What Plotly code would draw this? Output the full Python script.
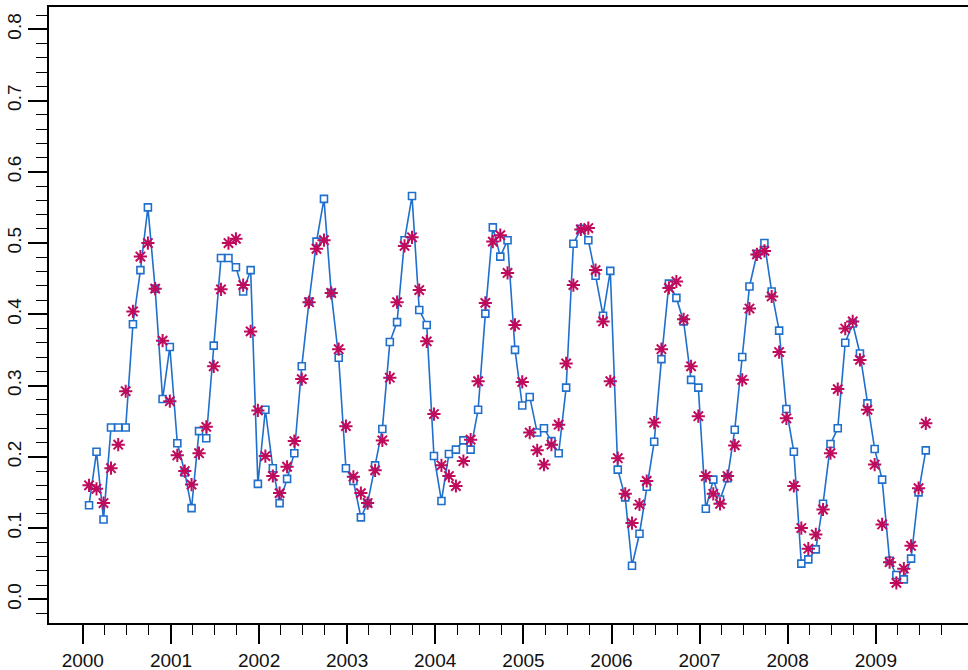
import pandas as pd
import plotly.graph_objects as go

# Monthly observations, Jan 2000 - Jul 2009
months = pd.date_range("2000-01-01", periods=115, freq="MS") + pd.Timedelta(days=26)

observed = [
    0.132, 0.207, 0.112, 0.241, 0.241, 0.241, 0.386, 0.462, 0.550, 0.436, 0.281, 0.354,
    0.219, 0.178, 0.128, 0.236, 0.226, 0.356, 0.479, 0.479, 0.466, 0.432, 0.462, 0.162,
    0.266, 0.184, 0.135, 0.169, 0.205, 0.327, 0.418, 0.502, 0.562, 0.430, 0.339, 0.184,
    0.166, 0.115, 0.135, 0.188, 0.239, 0.361, 0.389, 0.504, 0.566, 0.406, 0.385, 0.201,
    0.138, 0.204, 0.210, 0.223, 0.210, 0.266, 0.401, 0.522, 0.481, 0.504, 0.350, 0.272,
    0.284, 0.234, 0.240, 0.222, 0.205, 0.297, 0.499, 0.520, 0.504, 0.454, 0.398, 0.461,
    0.182, 0.143, 0.047, 0.092, 0.158, 0.221, 0.337, 0.443, 0.423, 0.390, 0.308, 0.297,
    0.127, 0.168, 0.140, 0.170, 0.238, 0.340, 0.439, 0.485, 0.500, 0.432, 0.377, 0.267,
    0.207, 0.050, 0.056, 0.070, 0.134, 0.218, 0.240, 0.360, 0.387, 0.345, 0.275, 0.211,
    0.168, 0.054, 0.034, 0.028, 0.057, 0.150, 0.209,
]

fitted = [
    0.160, 0.155, 0.135, 0.184, 0.217, 0.292, 0.404, 0.481, 0.500, 0.436, 0.363, 0.278,
    0.202, 0.180, 0.161, 0.205, 0.242, 0.327, 0.435, 0.500, 0.506, 0.441, 0.376, 0.265,
    0.201, 0.173, 0.149, 0.186, 0.222, 0.309, 0.417, 0.492, 0.504, 0.430, 0.351, 0.243,
    0.172, 0.149, 0.135, 0.181, 0.223, 0.311, 0.417, 0.496, 0.508, 0.434, 0.362, 0.260,
    0.188, 0.173, 0.159, 0.194, 0.224, 0.306, 0.416, 0.502, 0.511, 0.458, 0.385, 0.305,
    0.234, 0.209, 0.189, 0.217, 0.245, 0.331, 0.441, 0.519, 0.521, 0.462, 0.390, 0.306,
    0.198, 0.148, 0.107, 0.133, 0.166, 0.248, 0.351, 0.437, 0.446, 0.393, 0.327, 0.257,
    0.173, 0.148, 0.134, 0.173, 0.216, 0.308, 0.408, 0.484, 0.489, 0.425, 0.347, 0.254,
    0.159, 0.100, 0.071, 0.091, 0.126, 0.205, 0.295, 0.380, 0.390, 0.336, 0.266, 0.189,
    0.105, 0.052, 0.023, 0.043, 0.075, 0.156, 0.247,
]

year_ticks = ["2000", "2001", "2002", "2003", "2004", "2005", "2006", "2007", "2008", "2009"]
y_ticks = [0.0, 0.1, 0.2, 0.3, 0.4, 0.5, 0.6, 0.7, 0.8]

# quarter ticks between the year ticks
quarter_ticks = [f"{y}-{m:02d}-01" for y in year_ticks for m in (4, 7, 10)]

blue = "#1f6fcc"
magenta = "#c00a5c"

fig = go.Figure()
fig.add_trace(go.Scatter(
    x=months, y=observed, mode="lines+markers",
    line=dict(color=blue, width=1.6),
    marker=dict(symbol="square", size=7, color="white", line=dict(color=blue, width=1.6)),
    showlegend=False,
))
fig.add_trace(go.Scatter(
    x=months, y=fitted, mode="markers",
    marker=dict(symbol="asterisk-open", size=11, color=magenta, line=dict(color=magenta, width=2)),
    showlegend=False,
))

font = dict(family="Liberation Sans, Arial, sans-serif", size=19, color="#111111")

fig.update_layout(
    width=968, height=670,
    margin=dict(l=49, r=0, t=7, b=47),
    paper_bgcolor="white", plot_bgcolor="white",
    font=font,
)
fig.update_xaxes(
    type="date",
    range=["1999-08-14", "2010-01-18"],
    tickmode="array",
    tickvals=[f"{y}-01-01" for y in year_ticks],
    ticktext=year_ticks,
    ticks="outside", ticklen=19, tickwidth=1.6, tickcolor="black",
    minor=dict(ticks="outside", ticklen=10, tickwidth=1.4, tickcolor="black",
               tickmode="array", tickvals=quarter_ticks),
    showline=True, linecolor="black", linewidth=1.6, mirror=True,
    showgrid=False, zeroline=False,
    tickfont=font,
)
fig.update_yaxes(
    range=[-0.0333, 0.8313],
    tickmode="array",
    tickvals=y_ticks,
    ticktext=[f"{v:.1f}" for v in y_ticks],
    tickangle=-90,
    ticks="outside", ticklen=19, tickwidth=1.6, tickcolor="black",
    minor=dict(ticks="outside", ticklen=11, tickwidth=1.4, tickcolor="black", dtick=0.02, tick0=0),
    showline=True, linecolor="black", linewidth=1.6,
    showgrid=False, zeroline=False,
    tickfont=font,
)

fig.write_html(
    "out.html",
    config={"displayModeBar": False},
    post_script="document.body.style.margin='0';document.body.style.padding='0';",
)
